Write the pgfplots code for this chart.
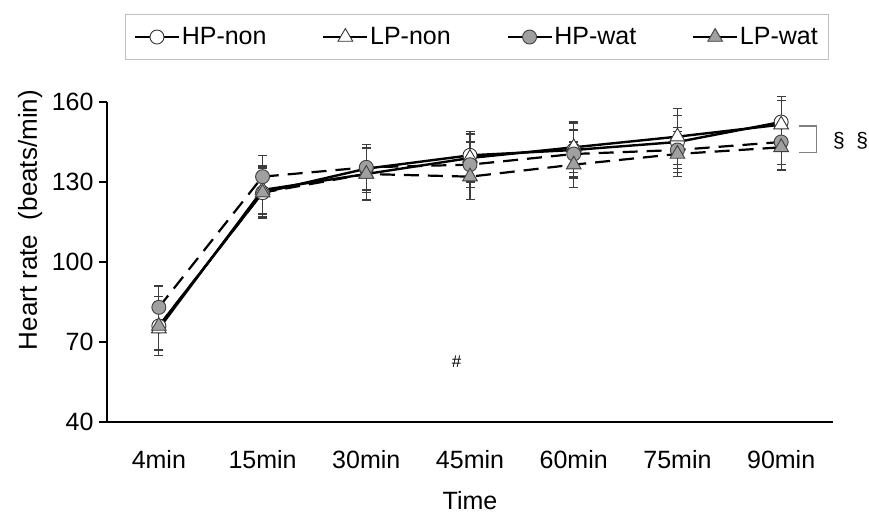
\documentclass[border=0pt]{standalone}
\usepackage{fontspec}
\setmainfont{Liberation Sans}
\usepackage{pgfplots}
\usepackage{pgfplotstable}
\pgfplotsset{compat=1.18}

\pgfplotstableread{
x y e
0 76 9
1 126 9
2 135 9
3 140 9
4 142 10
5 145 10
6 152.5 9.5
}\hpnon
\pgfplotstableread{
x y e
0 75 8
1 127 9
2 133 10
3 139 9
4 143 9.5
5 147 10.5
6 151.5 9
}\lpnon
\pgfplotstableread{
x y e
0 83 8
1 132 8
2 135.5 8.5
3 136.5 8.5
4 140.5 9
5 142 8.5
6 145 8.5
}\hpwat
\pgfplotstableread{
x y e
0 76 11
1 126 9.5
2 133 9.5
3 132 8.5
4 136.5 8.5
5 140.5 8.5
6 143 8.5
}\lpwat

\definecolor{mfill}{RGB}{160,160,160}
\definecolor{ebar}{RGB}{60,60,60}

\pgfplotsset{ebplot/.style={forget plot, draw=none, mark=none,
  error bars/.cd, y dir=both, y explicit,
  error bar style={line width=1.1pt, ebar},
  error mark options={rotate=90, mark size=4.5pt, line width=1.1pt, ebar}}}

\begin{document}
\begin{tikzpicture}[x=1pt,y=1pt]
\path[use as bounding box] (-107,-96) rectangle (762,422);
\begin{axis}[
  at={(0,0)}, anchor=south west,
  scale only axis, width=726pt, height=320pt,
  xmin=-0.5, xmax=6.5, ymin=40, ymax=160,
  axis x line=bottom, axis y line=left,
  axis line style={-, line width=1.5pt, black},
  xtick={0,...,6},
  xticklabels={4min,15min,30min,45min,60min,75min,90min},
  x tick style={draw=none},
  ytick={40,70,100,130,160},
  y tick style={line width=1.3pt, black},
  tick align=outside, major tick length=8pt,
  /pgf/number format/assume math mode=true,
  tick label style={font=\fontsize{25}{29}\selectfont},
  xticklabel style={yshift=-17pt},
  yticklabel style={xshift=-2pt},
  clip=false,
  legend style={
    at={(0.5096,1.203)}, anchor=center,
    draw=gray!50, line width=0.6pt,
    font=\fontsize{25}{29}\selectfont,
    legend columns=4,
    inner xsep=9pt, inner ysep=11pt,
    /tikz/every even column/.append style={column sep=54pt},
  },
  legend image code/.code={
    \draw[mark repeat=2,mark phase=2,#1,solid,line width=1.6pt]
      plot coordinates {(0pt,0pt)(22pt,0pt)(44pt,0pt)};
  },
]
\addplot[ebplot] table[x=x, y=y, y error=e] {\hpnon};
\addplot[ebplot] table[x=x, y=y, y error=e] {\lpnon};
\addplot[ebplot] table[x=x, y=y, y error=e] {\hpwat};
\addplot[ebplot] table[x=x, y=y, y error=e] {\lpwat};

\addplot[black, line width=2.4pt, mark=*, mark size=7pt,
  mark options={fill=white, draw=black!80, line width=0.9pt}]
  table[x=x,y=y] {\hpnon};
\addlegendentry{HP-non}
\addplot[black, line width=2.4pt, mark=triangle*, mark size=8.5pt,
  mark options={fill=white, draw=black!80, line width=0.9pt}]
  table[x=x,y=y] {\lpnon};
\addlegendentry{LP-non}
\addplot[black, line width=2.2pt, dash pattern=on 15pt off 9pt, mark=*, mark size=7pt,
  mark options={fill=mfill, draw=black!75, line width=0.9pt, solid}]
  table[x=x,y=y] {\hpwat};
\addlegendentry{HP-wat}
\addplot[black, line width=2.2pt, dash pattern=on 15pt off 9pt, mark=triangle*, mark size=8.5pt,
  mark options={fill=mfill, draw=black!75, line width=0.9pt, solid}]
  table[x=x,y=y] {\lpwat};
\addlegendentry{LP-wat}

\draw[gray, line width=1.1pt] (axis cs:6.17,151) -- (axis cs:6.34,151) -- (axis cs:6.34,141) -- (axis cs:6.17,141);
\node[font=\fontsize{21}{24}\selectfont] at (axis cs:6.67,145.5) {§\ \ §};
\node[font=\fontsize{17}{20}\selectfont] at (axis cs:2.87,62.6) {\#};

\node[rotate=90, font=\fontsize{26}{30}\selectfont] at (axis description cs:-0.106,0.631) {Heart rate\ \ (beats/min)};
\node[font=\fontsize{25}{29}\selectfont] at (axis description cs:0.5,-0.244) {Time};
\end{axis}
\end{tikzpicture}
\end{document}
